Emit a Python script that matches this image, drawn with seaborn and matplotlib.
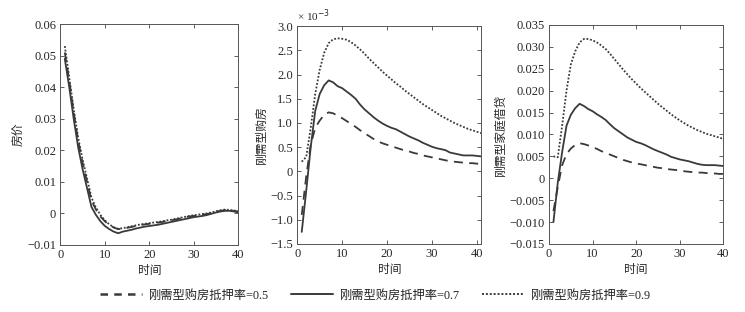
import numpy as np
import pandas as pd
import seaborn as sns
import matplotlib.pyplot as plt
from matplotlib.ticker import FuncFormatter
from matplotlib.lines import Line2D

# 时间轴
t = list(range(1, 41))
t2 = list(range(1, 42))  # 中间图画到 41

labels = ['刚需型购房抵押率=0.5', '刚需型购房抵押率=0.7', '刚需型购房抵押率=0.9']

# 房价
price_05 = [0.051, 0.042, 0.032, 0.023, 0.016, 0.010, 0.004, 0.0012, -0.001, -0.0025,
            -0.0037, -0.0045, -0.0050, -0.0048, -0.0046, -0.0043, -0.0040, -0.0037, -0.0035, -0.0033,
            -0.0031, -0.0029, -0.0027, -0.0024, -0.0022, -0.0019, -0.0016, -0.0013, -0.0010, -0.0008,
            -0.0006, -0.0004, -0.0002, 0.0001, 0.0005, 0.0008, 0.0010, 0.0010, 0.0008, 0.0006]
price_07 = [0.049, 0.040, 0.030, 0.021, 0.014, 0.008, 0.002, -0.0005, -0.0025, -0.0040,
            -0.0050, -0.0058, -0.0063, -0.0058, -0.0055, -0.0052, -0.0048, -0.0045, -0.0042, -0.0040,
            -0.0038, -0.0036, -0.0033, -0.0030, -0.0027, -0.0024, -0.0021, -0.0018, -0.0015, -0.0012,
            -0.0010, -0.0008, -0.0005, -0.0001, 0.0003, 0.0006, 0.0008, 0.0008, 0.0006, 0.0003]
price_09 = [0.053, 0.043, 0.033, 0.024, 0.017, 0.011, 0.005, 0.0018, -0.0005, -0.0022,
            -0.0035, -0.0044, -0.0049, -0.0047, -0.0044, -0.0041, -0.0038, -0.0035, -0.0033, -0.0031,
            -0.0029, -0.0027, -0.0025, -0.0022, -0.0020, -0.0017, -0.0014, -0.0011, -0.0008, -0.0006,
            -0.0004, -0.0002, 0.0000, 0.0003, 0.0007, 0.0010, 0.0012, 0.0011, 0.0009, 0.0007]

# 刚需型购房 (x 10^-3)
buy_05 = [-0.9, -0.1, 0.55, 0.9, 1.05, 1.17, 1.22, 1.20, 1.15, 1.10,
          1.04, 0.98, 0.92, 0.85, 0.79, 0.73, 0.67, 0.62, 0.58, 0.55,
          0.52, 0.49, 0.46, 0.43, 0.41, 0.38, 0.36, 0.33, 0.31, 0.29,
          0.27, 0.25, 0.23, 0.21, 0.20, 0.19, 0.18, 0.17, 0.17, 0.16, 0.16]
buy_07 = [-1.25, -0.4, 0.5, 1.25, 1.6, 1.78, 1.88, 1.84, 1.76, 1.72,
          1.65, 1.58, 1.50, 1.38, 1.28, 1.20, 1.12, 1.05, 0.99, 0.94,
          0.90, 0.87, 0.82, 0.77, 0.72, 0.68, 0.64, 0.59, 0.55, 0.51,
          0.48, 0.46, 0.44, 0.39, 0.37, 0.35, 0.33, 0.33, 0.33, 0.32, 0.31]
buy_09 = [0.2, 0.3, 0.9, 1.6, 2.1, 2.45, 2.65, 2.73, 2.75, 2.74,
          2.72, 2.67, 2.60, 2.52, 2.43, 2.33, 2.24, 2.15, 2.06, 1.98,
          1.90, 1.82, 1.75, 1.67, 1.60, 1.53, 1.46, 1.39, 1.33, 1.27,
          1.21, 1.15, 1.10, 1.05, 1.00, 0.96, 0.92, 0.88, 0.85, 0.82, 0.79]

# 刚需型家庭借贷
loan_05 = [-0.0075, -0.002, 0.003, 0.0055, 0.0068, 0.0076, 0.0080, 0.0078, 0.0075, 0.0071,
           0.0067, 0.0062, 0.0058, 0.0054, 0.0050, 0.0046, 0.0042, 0.0039, 0.0036, 0.0034,
           0.0032, 0.0030, 0.0028, 0.0026, 0.0024, 0.0023, 0.0021, 0.0020, 0.0019, 0.0018,
           0.0016, 0.0015, 0.0014, 0.0013, 0.0013, 0.0012, 0.0011, 0.0011, 0.0010, 0.0010]
loan_07 = [-0.010, -0.001, 0.006, 0.012, 0.0145, 0.016, 0.017, 0.0165, 0.0158, 0.0153,
           0.0146, 0.0140, 0.0133, 0.0123, 0.0114, 0.0107, 0.0100, 0.0093, 0.0088, 0.0083,
           0.0080, 0.0076, 0.0071, 0.0066, 0.0062, 0.0058, 0.0054, 0.0049, 0.0046, 0.0043,
           0.0041, 0.0039, 0.0036, 0.0033, 0.0031, 0.0030, 0.0030, 0.0030, 0.0029, 0.0028]
loan_09 = [0.0050, 0.0048, 0.012, 0.020, 0.026, 0.029, 0.031, 0.0318, 0.0318, 0.0315,
           0.0310, 0.0303, 0.0295, 0.0284, 0.0272, 0.0260, 0.0248, 0.0237, 0.0226, 0.0216,
           0.0206, 0.0197, 0.0188, 0.0179, 0.0170, 0.0162, 0.0154, 0.0146, 0.0139, 0.0132,
           0.0126, 0.0120, 0.0115, 0.0110, 0.0106, 0.0102, 0.0099, 0.0096, 0.0093, 0.0090]

sns.set_style("ticks")
plt.rcParams['font.family'] = ['Liberation Serif', 'Noto Sans CJK SC', 'DejaVu Sans']
plt.rcParams['axes.unicode_minus'] = True

color = '#3a3a3a'
styles = [(0, (5, 3.5)), '-', (0, (1, 1))]
lw = 1.3


def fmt(dec):
    def f(v, pos):
        if abs(v) < 1e-12:
            return '0'
        return f'{v:.{dec}f}'.replace('-', '\u2212')
    return FuncFormatter(f)


fig = plt.figure(figsize=(7.45, 3.12), dpi=100)
ax1 = fig.add_axes([0.081, 0.215, 0.239, 0.708])
ax2 = fig.add_axes([0.399, 0.218, 0.247, 0.698])
ax3 = fig.add_axes([0.737, 0.218, 0.234, 0.702])

panels = [
    (ax1, t, [price_05, price_07, price_09], '房价', (0, 40), (-0.01, 0.06), np.arange(-0.01, 0.061, 0.01), 2),
    (ax2, t2, [buy_05, buy_07, buy_09], '刚需型购房', (0, 41), (-1.5, 3.0), np.arange(-1.5, 3.01, 0.5), 1),
    (ax3, t, [loan_05, loan_07, loan_09], '刚需型家庭借贷', (0, 40), (-0.015, 0.035), np.arange(-0.015, 0.0351, 0.005), 3),
]

for ax, x, series, ylab, xl, yl, yt, dec in panels:
    for vals, ls in zip(series, styles):
        sns.lineplot(x=x, y=vals, ax=ax, color=color, linestyle=ls, linewidth=lw)
    ax.set_xlim(*xl)
    ax.set_ylim(*yl)
    ax.set_xticks([0, 10, 20, 30, 40])
    ax.set_yticks(yt)
    ax.yaxis.set_major_formatter(fmt(dec))
    ax.set_xlabel('时间', fontsize=8.5, labelpad=3)
    ax.set_ylabel(ylab, fontsize=8.5, labelpad=2)
    ax.tick_params(direction='in', length=3, width=0.6, labelsize=9, color='#444444',
                   top=True, right=True, pad=3)
    for s in ax.spines.values():
        s.set_linewidth(0.7)
        s.set_color('#555555')

ax2.text(0.0, 1.01, '× 10$^{-3}$', transform=ax2.transAxes, fontsize=8, va='bottom', ha='left')

handles = [Line2D([], [], color=color, linestyle=ls, linewidth=1.8 if i == 0 else 1.4)
           for i, ls in enumerate([(0, (3, 2.5)), '-', (0, (1, 1))])]
fig.legend(handles, labels, loc='center', bbox_to_anchor=(0.504, 0.052), ncol=3, frameon=False,
           fontsize=8.8, handlelength=3.4, columnspacing=1.8, handletextpad=0.6)

fig.savefig('out.png', dpi=100)
